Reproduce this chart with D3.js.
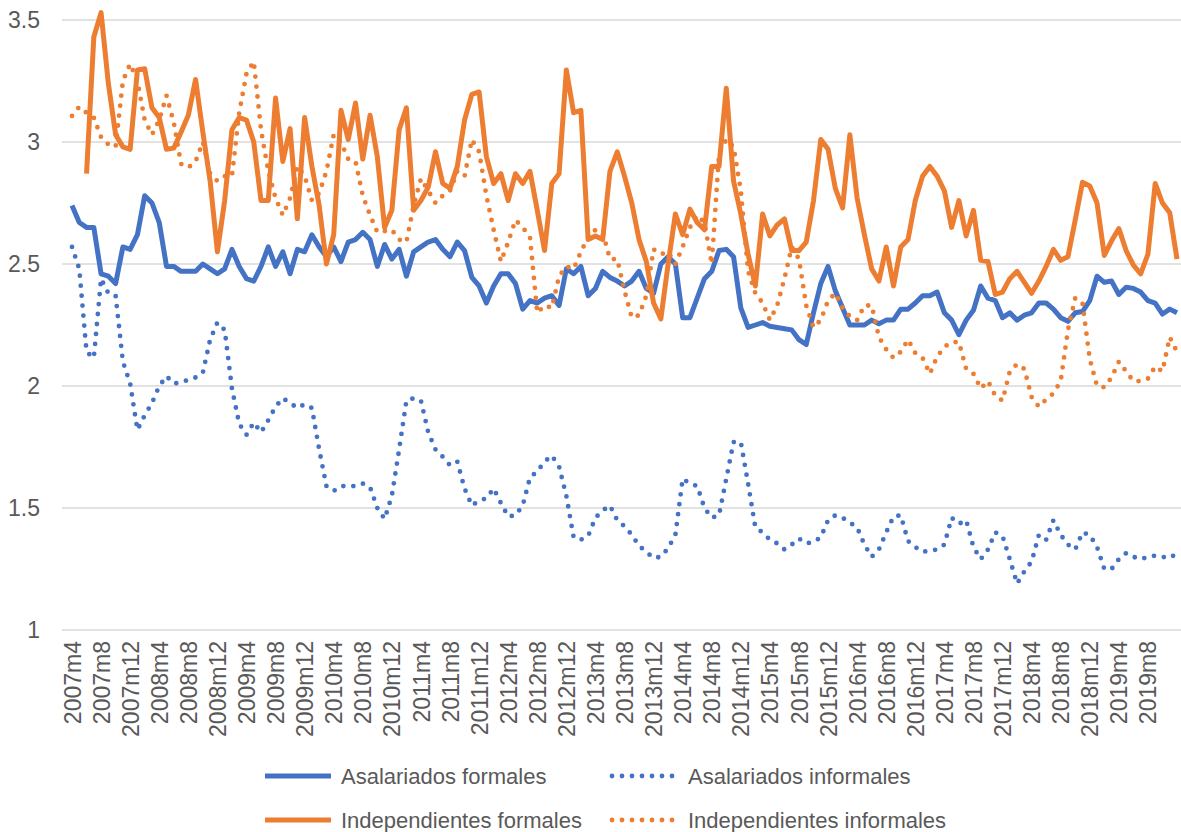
<!DOCTYPE html>
<html>
<head>
<meta charset="utf-8">
<script src="https://cdn.jsdelivr.net/npm/d3@7"></script>
<style>
  body { margin: 0; background: #fff; }
  svg { display: block; font-family: "Liberation Sans", Arial, sans-serif; }
</style>
</head>
<body>
<svg id="chart" width="1181" height="832"></svg>
<script>
// monthly series, 2007m4 .. 2019m12
const tickLabels = ["2007m4","2007m8","2007m12","2008m4","2008m8","2008m12","2009m4","2009m8","2009m12",
  "2010m4","2010m8","2010m12","2011m4","2011m8","2011m12","2012m4","2012m8","2012m12","2013m4","2013m8",
  "2013m12","2014m4","2014m8","2014m12","2015m4","2015m8","2015m12","2016m4","2016m8","2016m12","2017m4",
  "2017m8","2017m12","2018m4","2018m8","2018m12","2019m4","2019m8"]

const yTicks = [1, 1.5, 2, 2.5, 3, 3.5]

const asalariadosFormales = [
  2.74,2.67,2.65,2.65,2.46,2.45,2.42,2.57,2.56,2.62,
  2.78,2.75,2.67,2.49,2.49,2.47,2.47,2.47,2.50,2.48,
  2.46,2.48,2.56,2.49,2.44,2.43,2.49,2.57,2.49,2.55,
  2.46,2.56,2.55,2.62,2.57,2.53,2.57,2.51,2.59,2.60,
  2.63,2.60,2.49,2.58,2.52,2.56,2.45,2.55,2.57,2.59,
  2.60,2.56,2.53,2.59,2.555,2.445,2.41,2.34,2.41,2.46,
  2.46,2.42,2.315,2.35,2.34,2.36,2.37,2.33,2.48,2.46,
  2.49,2.37,2.40,2.47,2.445,2.43,2.41,2.43,2.47,2.40,
  2.38,2.50,2.53,2.50,2.28,2.28,2.36,2.44,2.47,2.555,
  2.56,2.53,2.32,2.24,2.25,2.26,2.245,2.24,2.235,2.23,
  2.19,2.17,2.30,2.42,2.49,2.39,2.32,2.25,2.25,2.25,
  2.27,2.255,2.27,2.27,2.315,2.315,2.34,2.37,2.37,2.385,
  2.30,2.27,2.21,2.27,2.31,2.41,2.36,2.35,2.28,2.30,
  2.27,2.29,2.30,2.34,2.34,2.315,2.28,2.265,2.30,2.305,
  2.35,2.45,2.425,2.43,2.375,2.405,2.40,2.385,2.35,2.34,
  2.295,2.315,2.30]

const asalariadosInformales = [
  2.57,2.48,2.14,2.115,2.44,2.38,2.37,2.10,2.01,1.82,
  1.88,1.93,2.00,2.04,2.01,2.015,2.025,2.035,2.055,2.19,
  2.26,2.23,1.99,1.845,1.80,1.85,1.81,1.86,1.915,1.95,
  1.93,1.91,1.925,1.91,1.74,1.59,1.57,1.59,1.59,1.59,
  1.60,1.585,1.50,1.455,1.55,1.74,1.94,1.95,1.94,1.81,
  1.74,1.71,1.675,1.69,1.58,1.51,1.53,1.54,1.58,1.52,
  1.465,1.47,1.51,1.625,1.65,1.69,1.715,1.67,1.55,1.38,
  1.37,1.385,1.46,1.49,1.51,1.45,1.425,1.39,1.345,1.32,
  1.295,1.30,1.335,1.39,1.62,1.60,1.59,1.50,1.46,1.47,
  1.62,1.77,1.77,1.60,1.42,1.40,1.37,1.355,1.33,1.35,
  1.375,1.355,1.36,1.38,1.45,1.47,1.46,1.44,1.42,1.35,
  1.30,1.33,1.40,1.465,1.47,1.365,1.34,1.32,1.325,1.33,
  1.35,1.46,1.435,1.45,1.34,1.29,1.33,1.40,1.385,1.29,
  1.19,1.24,1.28,1.39,1.37,1.45,1.39,1.35,1.33,1.40,
  1.39,1.34,1.25,1.25,1.29,1.315,1.30,1.29,1.30,1.305,
  1.30,1.295,1.315]

const independientesFormales = [
  null,null,2.87,3.43,3.53,3.24,3.03,2.98,2.97,3.295,
  3.30,3.14,3.10,2.97,2.975,3.04,3.11,3.256,3.04,2.84,
  2.55,2.76,3.05,3.10,3.09,3.00,2.76,2.76,3.18,2.92,
  3.055,2.685,3.10,2.90,2.74,2.50,2.62,3.13,3.01,3.16,
  2.93,3.11,2.94,2.65,2.72,3.05,3.14,2.72,2.76,2.815,
  2.96,2.83,2.81,2.90,3.09,3.195,3.205,2.94,2.83,2.87,
  2.76,2.87,2.83,2.88,2.72,2.555,2.83,2.87,3.295,3.12,
  3.13,2.60,2.615,2.60,2.88,2.96,2.86,2.75,2.60,2.51,
  2.34,2.275,2.50,2.705,2.62,2.725,2.67,2.64,2.90,2.90,
  3.22,2.84,2.705,2.54,2.41,2.705,2.615,2.66,2.685,2.555,
  2.555,2.59,2.76,3.01,2.97,2.81,2.73,3.03,2.77,2.62,
  2.48,2.43,2.57,2.41,2.57,2.60,2.76,2.86,2.90,2.86,
  2.80,2.65,2.76,2.615,2.72,2.515,2.51,2.375,2.385,2.44,
  2.47,2.425,2.38,2.43,2.49,2.56,2.515,2.53,2.68,2.835,
  2.82,2.75,2.535,2.595,2.645,2.555,2.495,2.46,2.54,2.83,
  2.75,2.71,2.52]

const independientesInformales = [
  3.107,3.144,3.12,3.10,3.02,2.99,2.98,3.25,3.32,3.25,
  3.09,3.03,3.09,3.19,3.08,2.91,2.895,2.92,3.00,2.87,
  2.84,2.86,2.86,3.12,3.28,3.33,3.05,2.88,2.77,2.70,
  2.77,2.90,2.86,2.76,2.79,2.88,3.03,3.00,2.93,2.92,
  2.78,2.70,2.63,2.635,2.64,2.60,2.59,2.74,2.85,2.80,
  2.75,2.78,2.80,2.88,2.86,3.01,2.96,2.78,2.64,2.51,
  2.59,2.68,2.65,2.61,2.30,2.33,2.32,2.45,2.49,2.48,
  2.55,2.61,2.64,2.63,2.52,2.52,2.39,2.28,2.29,2.37,
  2.56,2.54,2.55,2.50,2.57,2.65,2.70,2.67,2.50,2.95,
  3.01,2.98,2.80,2.47,2.38,2.34,2.27,2.33,2.44,2.57,
  2.52,2.33,2.24,2.27,2.35,2.38,2.32,2.285,2.27,2.33,
  2.33,2.20,2.15,2.115,2.14,2.19,2.135,2.115,2.05,2.12,
  2.16,2.18,2.18,2.07,2.05,1.99,2.02,1.96,1.94,2.06,
  2.09,2.07,1.955,1.915,1.945,1.97,2.02,2.23,2.36,2.34,
  2.11,2.00,1.995,2.035,2.10,2.06,2.02,2.02,2.03,2.08,
  2.06,2.20,2.14]

const blue = "#4472C4"
const orange = "#ED7D31"

const series = [
  {name: "Asalariados formales", values: asalariadosFormales, color: blue, dotted: false},
  {name: "Asalariados informales", values: asalariadosInformales, color: blue, dotted: true},
  {name: "Independientes formales", values: independientesFormales, color: orange, dotted: false},
  {name: "Independientes informales", values: independientesInformales, color: orange, dotted: true}
]

const margin = {left: 62, right: 0, top: 20, bottom: 202}
const width = 1181, height = 832

const svg = d3.select("#chart")

const n = asalariadosFormales.length
const x = d3.scaleLinear().domain([0, n - 1]).range([72, 1177])
const y = d3.scaleLinear().domain([1, 3.5]).range([630, 20])

// gridlines
svg.append("g")
  .selectAll("line")
  .data(yTicks)
  .join("line")
  .attr("x1", margin.left)
  .attr("x2", width)
  .attr("y1", d => y(d))
  .attr("y2", d => y(d))
  .attr("stroke", "#d9d9d9")
  .attr("stroke-width", 1.5)

// y axis
const yAxis = svg.append("g")
  .attr("transform", `translate(${margin.left},0)`)
  .call(d3.axisLeft(y).tickValues(yTicks).tickSize(0).tickPadding(22).tickFormat(d => String(d)))
yAxis.select(".domain").remove()
yAxis.selectAll("text")
  .attr("font-size", 23)
  .attr("fill", "#595959")
  .style("font-family", "Liberation Sans, Arial, sans-serif")

// x axis
const tickIdx = tickLabels.map((d, i) => i * 4)
const xAxis = svg.append("g")
  .attr("transform", `translate(0,${y(1)})`)
  .call(d3.axisBottom(x).tickValues(tickIdx).tickSize(0).tickFormat(d => tickLabels[d / 4]))
xAxis.select(".domain").remove()
xAxis.selectAll("text")
  .attr("transform", "rotate(-90)")
  .attr("text-anchor", "end")
  .attr("x", -11)
  .attr("y", 0)
  .attr("dy", "0.35em")
  .attr("font-size", 23)
  .attr("fill", "#595959")
  .style("font-family", "Liberation Sans, Arial, sans-serif")

// lines
const line = d3.line()
  .defined(d => d != null)
  .x((d, i) => x(i))
  .y(d => y(d))

svg.append("g")
  .selectAll("path")
  .data(series)
  .join("path")
  .attr("d", s => line(s.values))
  .attr("fill", "none")
  .attr("stroke", s => s.color)
  .attr("stroke-width", s => s.dotted ? 4.8 : 5)
  .attr("stroke-linejoin", "round")
  .attr("stroke-linecap", s => s.dotted ? "round" : "butt")
  .attr("stroke-dasharray", s => s.dotted ? "0 10" : null)

// legend
const legendPos = [
  {x: 265, y: 776}, {x: 612, y: 776}, {x: 265, y: 820}, {x: 612, y: 820}
]
const legend = svg.append("g")
  .selectAll("g")
  .data(series)
  .join("g")
  .attr("transform", (s, i) => `translate(${legendPos[i].x},${legendPos[i].y})`)

legend.append("line")
  .attr("x1", 0).attr("x2", 66)
  .attr("stroke", s => s.color)
  .attr("stroke-width", s => s.dotted ? 4.8 : 5)
  .attr("stroke-linecap", s => s.dotted ? "round" : "butt")
  .attr("stroke-dasharray", s => s.dotted ? "0 10" : null)

legend.append("text")
  .attr("x", 76)
  .attr("y", 8)
  .attr("font-size", 22)
  .attr("fill", "#595959")
  .text(s => s.name)
</script>
</body>
</html>
